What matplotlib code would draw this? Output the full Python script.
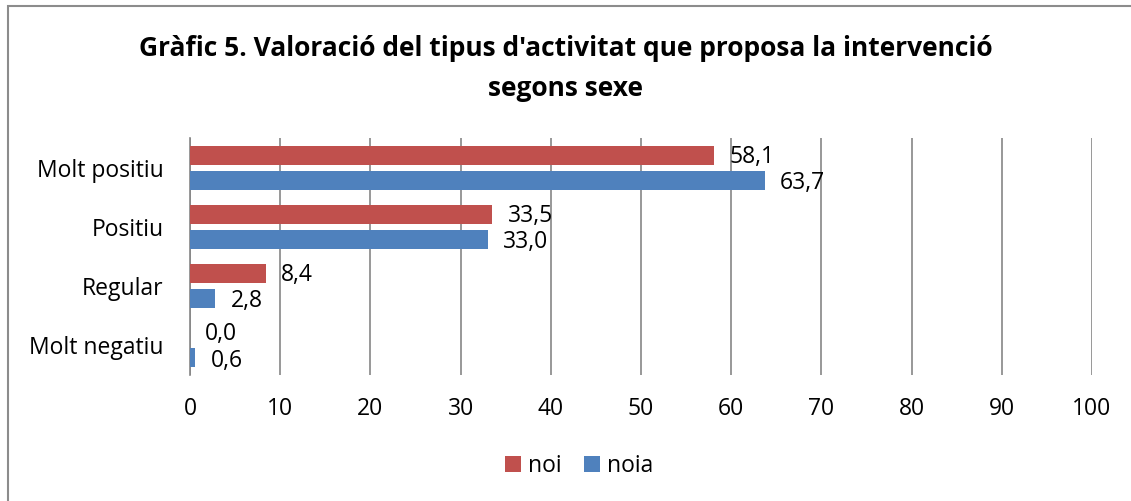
import matplotlib.pyplot as plt
import numpy as np
from matplotlib.patches import Rectangle

categories = ['Molt positiu', 'Positiu', 'Regular', 'Molt negatiu']
noi = [58.1, 33.5, 8.4, 0.0]
noia = [63.7, 33.0, 2.8, 0.6]
x_ticks = [0, 10, 20, 30, 40, 50, 60, 70, 80, 90, 100]

plt.rcParams['font.family'] = ['Open Sans', 'DejaVu Sans']

red = '#C0504D'
blue = '#4F81BD'
grid_c = '#868686'
fs = 16.5

fig = plt.figure(figsize=(11.31, 5.01), dpi=100)
ax = fig.add_axes([190 / 1131, 1 - 375 / 501, (1092 - 190) / 1131, (375 - 138) / 501])

y = np.arange(len(categories))
h = 0.32
off = 0.21
ax.barh(y - off, noi, height=h, color=red, label='noi', zorder=3)
ax.barh(y + off, noia, height=h, color=blue, label='noia', zorder=3)

# data labels, Excel style "outside end"
for yi, v in zip(y, noi):
    ax.annotate('{:.1f}'.format(v).replace('.', ','), (v, yi - off), xytext=(11, -1),
                textcoords='offset points', va='center', ha='left', fontsize=fs)
for yi, v in zip(y, noia):
    ax.annotate('{:.1f}'.format(v).replace('.', ','), (v, yi + off), xytext=(11, -2),
                textcoords='offset points', va='center', ha='left', fontsize=fs)

ax.set_ylim(len(categories) - 0.5, -0.5)
ax.set_xlim(0, 100)
ax.set_xticks(x_ticks)
ax.set_yticks(y)
ax.set_yticklabels(categories, fontsize=fs)
ax.tick_params(axis='x', labelsize=fs, length=0, pad=16)
ax.tick_params(axis='y', length=0, pad=19)
ax.grid(axis='x', color=grid_c, linewidth=1.2, zorder=0)
for s in ['top', 'right', 'bottom']:
    ax.spines[s].set_visible(False)
ax.spines['left'].set_color(grid_c)
ax.spines['left'].set_linewidth(1.2)

fig.text(0.5, 1 - 48 / 501, "Gràfic 5. Valoració del tipus d'activitat que proposa la intervenció",
         ha='center', va='center', fontsize=19, fontweight='bold')
fig.text(0.5, 1 - 88 / 501, 'segons sexe', ha='center', va='center', fontsize=19, fontweight='bold')

fig.legend(loc='center', bbox_to_anchor=(0.512, 1 - 466 / 501), ncol=2, frameon=False,
           fontsize=fs, handlelength=0.7, handleheight=0.7, handletextpad=0.3, columnspacing=1.0)

fig.patches.append(Rectangle((8 / 1131, -0.1), 1.2, 1 - 6 / 501 + 0.1, transform=fig.transFigure,
                             fill=False, edgecolor='#8c8c8c', linewidth=1.5))

fig.savefig('out.png', dpi=100)
